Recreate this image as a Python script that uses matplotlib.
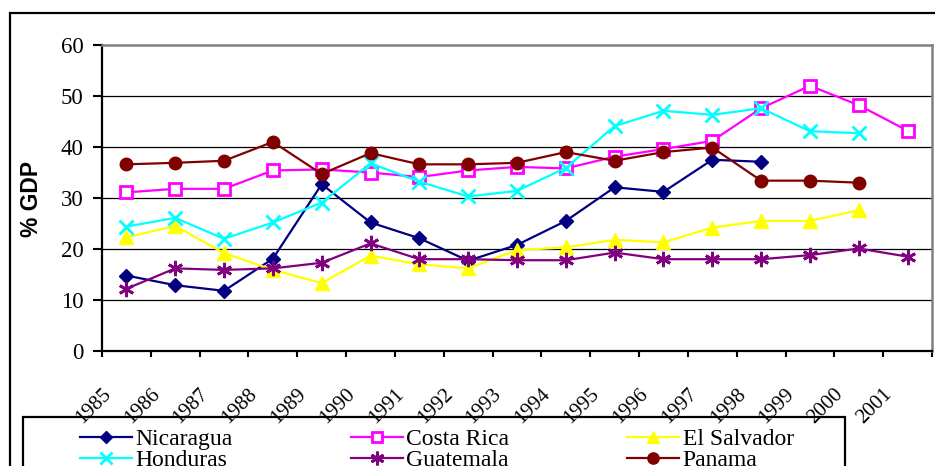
import matplotlib
matplotlib.use('Agg')
import matplotlib.pyplot as plt
from matplotlib.patches import Rectangle
from matplotlib.transforms import ScaledTranslation

# Share of GDP by country, 1985-2001
years = [str(y) for y in range(1985, 2002)]

nicaragua = [14.8, 12.9, 11.8, 18.1, 32.7, 25.2, 22.1, 17.7, 20.8, 25.5, 32.1, 31.2, 37.5, 37.1]
costa_rica = [31.1, 31.8, 31.8, 35.4, 35.6, 35.0, 34.1, 35.4, 36.1, 35.8, 38.1, 39.6, 41.2, 47.6, 52.0, 48.2, 43.2]
el_salvador = [22.3, 24.5, 19.2, 15.9, 13.3, 18.7, 17.0, 16.2, 19.8, 20.3, 21.8, 21.3, 24.2, 25.5, 25.5, 27.6]
honduras = [24.4, 26.1, 22.0, 25.2, 29.1, 36.8, 33.2, 30.3, 31.4, 35.9, 44.1, 47.1, 46.3, 47.6, 43.1, 42.7]
guatemala = [12.2, 16.2, 15.9, 16.2, 17.3, 21.1, 18.0, 18.0, 17.8, 17.8, 19.3, 18.0, 18.0, 18.0, 18.8, 20.1, 18.5]
panama = [36.6, 36.9, 37.3, 41.0, 34.7, 38.8, 36.6, 36.6, 36.9, 39.0, 37.3, 39.0, 39.9, 33.4, 33.4, 33.0]

series = [
    ('Nicaragua', nicaragua, '#000080', dict(marker='D', ms=7)),
    ('Costa Rica', costa_rica, '#FF00FF', dict(marker='s', ms=8, mfc='white', mew=2)),
    ('El Salvador', el_salvador, '#FFFF00', dict(marker='^', ms=10)),
    ('Honduras', honduras, '#00FFFF', dict(marker='x', ms=10, mew=2)),
    ('Guatemala', guatemala, '#800080', dict(marker=(6, 2, 0), ms=11, mew=2)),
    ('Panama', panama, '#800000', dict(marker='o', ms=9)),
]

plt.rcParams['font.family'] = ['Liberation Serif', 'DejaVu Serif']

W, H, DPI = 935, 466, 100
fig = plt.figure(figsize=(W / DPI, H / DPI), dpi=DPI)
ax = fig.add_axes([102 / W, 1 - 351 / H, 830 / W, 306 / H])

# outer chart frame (runs past the right and bottom edges)
fig.patches.append(Rectangle((10 / W, -0.2), 1.2, 1 - 13 / H + 0.2, transform=fig.transFigure,
                             fill=False, edgecolor='black', linewidth=1.6, clip_on=False))

handles = []
for name, vals, color, style in series:
    line, = ax.plot(range(len(vals)), vals, color=color, linewidth=1.6, mec=color,
                    label=name, **({'mfc': color} | style))
    handles.append(line)

ax.set_xlim(-0.5, len(years) - 0.5)
ax.set_ylim(0, 60)
ax.set_yticks(range(0, 70, 10))
ax.tick_params(axis='y', direction='out', length=6.5, width=1.5, labelsize=16.5, pad=7)

for y in range(10, 60, 10):
    ax.axhline(y, color='black', linewidth=0.9, zorder=0)

ax.set_xticks(range(len(years)))
ax.set_xticklabels(years, rotation=45, ha='right', va='top', rotation_mode='anchor')
ax.set_xticks([i - 0.5 for i in range(len(years) + 1)], minor=True)
ax.tick_params(axis='x', which='major', length=0, labelsize=15, pad=24)
ax.tick_params(axis='x', which='minor', direction='out', length=4.5, width=1.5)
for lab in ax.get_xticklabels():
    lab.set_transform(lab.get_transform() + ScaledTranslation(-0.25, 0, fig.dpi_scale_trans))

for side in ('left', 'bottom'):
    ax.spines[side].set_linewidth(1.6)
    ax.spines[side].set_color('black')
for side in ('top', 'right'):
    ax.spines[side].set_linewidth(1.8)
    ax.spines[side].set_color('#808080')

fig.text(32 / W, 1 - 199 / H, '% GDP', rotation=90, ha='center', va='center',
         fontsize=16.5, fontweight='bold', family=['Liberation Sans', 'DejaVu Sans'])

# legend box
fig.patches.append(Rectangle((23 / W, -0.2), (845 - 23) / W, 1 - 417 / H + 0.2, transform=fig.transFigure,
                             fill=False, edgecolor='black', linewidth=1.6, clip_on=False))
order = [handles[0], handles[3], handles[1], handles[4], handles[2], handles[5]]
fig.legend(order, [h.get_label() for h in order], ncol=3, loc='upper left',
           bbox_to_anchor=(68 / W, 1 - 417 / H), frameon=False, fontsize=17,
           borderpad=0, handlelength=2.2, handletextpad=0.15, columnspacing=5.0,
           labelspacing=-0.03, markerscale=0.9)

fig.savefig('out.png', dpi=DPI)
